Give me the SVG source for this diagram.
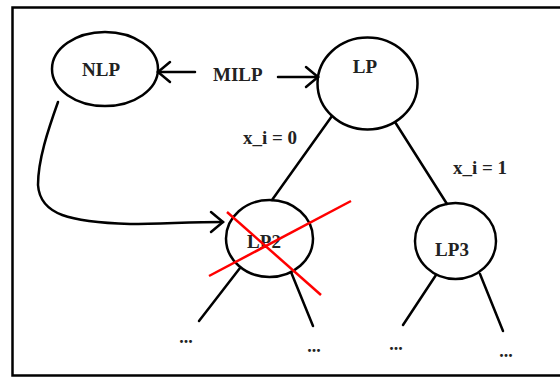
<svg xmlns="http://www.w3.org/2000/svg" width="560" height="377" viewBox="0 0 560 377">
<style>
.shape{fill:none;stroke:#000;stroke-width:2.5}
.ln{fill:none;stroke:#000;stroke-width:2.5;stroke-linecap:round}
.red{fill:none;stroke:#ff0000;stroke-width:2.5}
.t{font-family:"Liberation Serif","Times New Roman",serif;font-weight:bold;font-size:19px;fill:#222}
.dots{font-family:"Liberation Serif","Times New Roman",serif;font-weight:bold;font-size:18px;fill:#222}
</style>
<defs>
<marker id="arr" viewBox="-14 -12 16 24" refX="0" refY="0" markerWidth="16" markerHeight="24" markerUnits="userSpaceOnUse" orient="auto">
<path d="M -12 -10 L 0 0 L -12 10" fill="none" stroke="#000" stroke-width="2.5" stroke-linecap="round"/>
</marker>
</defs>
<rect width="560" height="377" fill="#fff"/>
<path d="M 570 7.5 H 12.5 V 375.5 H 570" fill="none" stroke="#000" stroke-width="2.5"/>
<g id="connectors">
<line class="ln" x1="195" y1="72" x2="158" y2="72" marker-end="url(#arr)"/>
<line class="ln" x1="278" y1="77" x2="318" y2="77" marker-end="url(#arr)"/>
<path class="ln" d="M 58 102 C 48 130 38 160 38 185 C 40 215 70 222 130 224 C 160 224 190 222 223 222" marker-end="url(#arr)"/>
<line class="ln" x1="332" y1="116" x2="272" y2="200"/>
<line class="ln" x1="395" y1="122" x2="447" y2="204"/>
<line class="ln" x1="240" y1="268" x2="199" y2="321"/>
<line class="ln" x1="291" y1="272" x2="313" y2="326"/>
<line class="ln" x1="436" y1="275" x2="403" y2="325"/>
<line class="ln" x1="480" y1="274" x2="503" y2="331"/>
<text class="t" x="213" y="81">MILP</text>
<text class="t" x="243" y="144" font-size="18">x_i = 0</text>
<text class="t" x="453" y="174" font-size="18">x_i = 1</text>
</g>
<g id="NLP">
<ellipse class="shape" cx="105" cy="69" rx="53" ry="37"/>
<text class="t" x="101" y="76" text-anchor="middle">NLP</text>
</g>
<g id="LP">
<ellipse class="shape" cx="367.5" cy="83.5" rx="50" ry="46"/>
<text class="t" x="365" y="73" text-anchor="middle">LP</text>
</g>
<g id="LP2">
<ellipse class="shape" cx="269.5" cy="238.5" rx="43.5" ry="38.5"/>
<text class="t" x="264" y="248" text-anchor="middle">LP2</text>
<line class="red" x1="227" y1="212" x2="321" y2="295"/>
<line class="red" x1="209" y1="276" x2="351" y2="201"/>
</g>
<g id="LP3">
<ellipse class="shape" cx="455.5" cy="241" rx="40.5" ry="38"/>
<text class="t" x="452" y="256" text-anchor="middle">LP3</text>
</g>
<g id="leaves">
<text class="dots" x="186" y="343" text-anchor="middle">...</text>
<text class="dots" x="314" y="352" text-anchor="middle">...</text>
<text class="dots" x="396" y="350" text-anchor="middle">...</text>
<text class="dots" x="506" y="357" text-anchor="middle">...</text>
</g>
</svg>
